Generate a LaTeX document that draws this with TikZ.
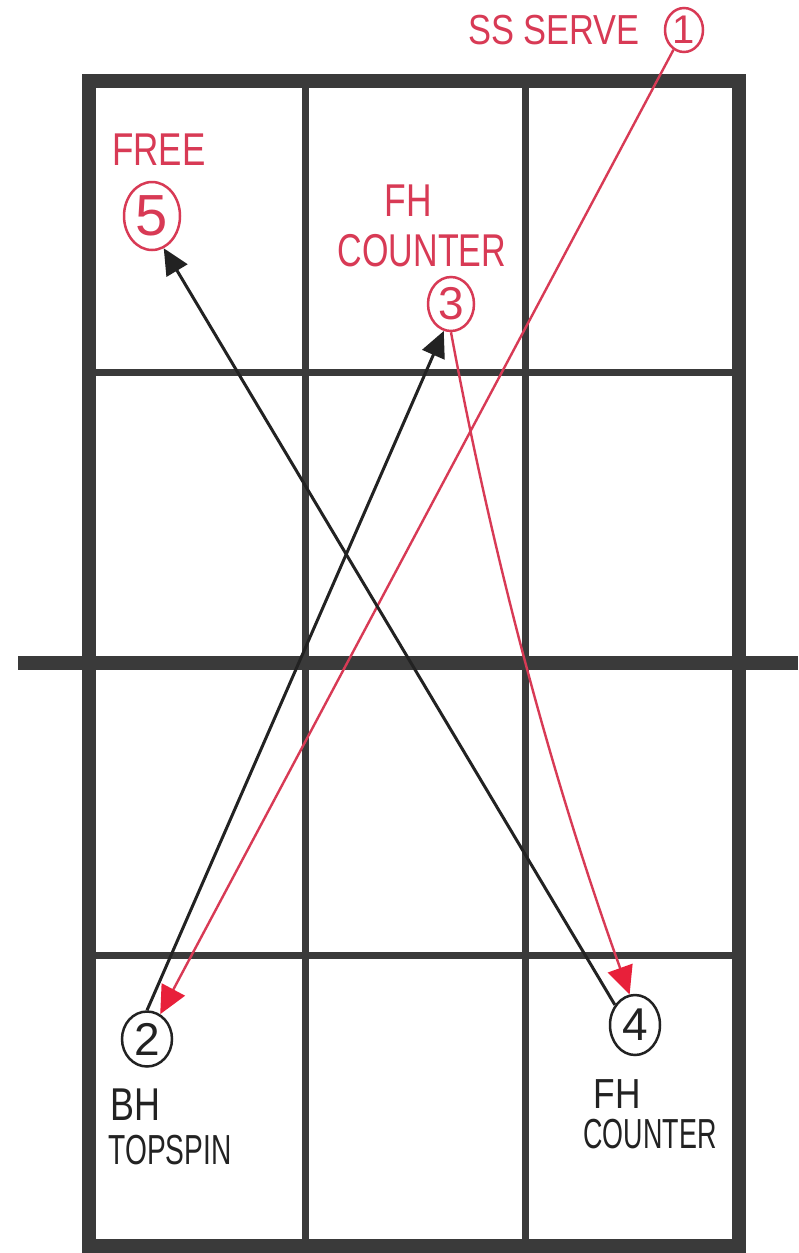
\documentclass[tikz,border=0pt]{standalone}
\usepackage{fontspec}
\setmainfont{Liberation Sans}
\usetikzlibrary{arrows.meta,shapes.geometric}
\definecolor{gridc}{HTML}{3A3A3A}
\definecolor{pen}{HTML}{D83A55}
\definecolor{penhead}{HTML}{E8203A}
\definecolor{ink}{HTML}{222222}
\begin{document}
\begin{tikzpicture}[x=1pt,y=-1pt,
  gridouter/.style={draw=gridc,line width=14pt},
  gridinner/.style={draw=gridc,line width=7pt},
  num/.style={ellipse,line width=2.5pt,inner sep=0pt,font=\fontsize{46}{46}\selectfont},
  rednum/.style={num,draw=pen,text=pen},
  blacknum/.style={num,draw=ink,text=ink},
  redlabel/.style={text=pen,inner sep=0pt},
  blacklabel/.style={text=ink,inner sep=0pt},
  redarrow/.style={draw=pen,line width=2.4pt,-{Triangle[length=28pt,width=26pt,color=penhead]}},
  blackarrow/.style={draw=ink,line width=3pt,-{Triangle[length=26pt,width=24pt]}}
]
\useasboundingbox (0,0) rectangle (798,1253);
\fill[white] (0,0) rectangle (798,1253);

% court grid
\draw[gridinner] (305,81) -- (305,1246);
\draw[gridinner] (525,81) -- (525,1246);
\draw[gridinner] (89,372) -- (739,372);
\draw[gridinner] (89,955) -- (739,955);
\draw[gridouter] (89,81) rectangle (739,1246);
\draw[gridouter] (18,663) -- (798,663);

% circled numbers
\node[rednum,minimum width=38pt,minimum height=44pt,font=\fontsize{40}{40}\selectfont] (n1) at (684,30) {1};
\node[blacknum,minimum width=50pt,minimum height=55pt] (n2) at (147,1039) {2};
\node[rednum,minimum width=46pt,minimum height=54pt] (n3) at (451,304) {3};
\node[blacknum,minimum width=50pt,minimum height=60pt] (n4) at (635,1025) {4};
\node[rednum,minimum width=56pt,minimum height=68pt,font=\fontsize{58}{58}\selectfont] (n5) at (152,216) {5};

% labels
\node[redlabel,font=\fontsize{42}{42}\selectfont] (lserve) at (554,30) {\scalebox{0.82}[1]{SS SERVE}};
\node[redlabel,font=\fontsize{46}{46}\selectfont] (lfree) at (159,150) {\scalebox{0.76}[1]{FREE}};
\node[redlabel,font=\fontsize{46}{46}\selectfont] (lfh3) at (408,201) {\scalebox{0.77}[1]{FH}};
\node[redlabel,font=\fontsize{46}{46}\selectfont] (lco3) at (422,251) {\scalebox{0.74}[1]{COUNTER}};
\node[blacklabel,font=\fontsize{46}{46}\selectfont] (lbh) at (135,1105) {\scalebox{0.78}[1]{BH}};
\node[blacklabel,font=\fontsize{42}{42}\selectfont] (ltop) at (170,1150) {\scalebox{0.67}[1]{TOPSPIN}};
\node[blacklabel,font=\fontsize{42}{42}\selectfont] (lfh4) at (617,1094) {\scalebox{0.84}[1]{FH}};
\node[blacklabel,font=\fontsize{42}{42}\selectfont] (lco4) at (650,1134) {\scalebox{0.64}[1]{COUNTER}};

% shots
\draw[redarrow] (n1) -- (n2);
\draw[blackarrow] (n2.north) -- (n3.255);
\draw[redarrow] (n3.south) .. controls (493,559) and (552,779) .. (n4.100);
\draw[blackarrow] (n4.135) -- (n5.290);
\end{tikzpicture}
\end{document}
